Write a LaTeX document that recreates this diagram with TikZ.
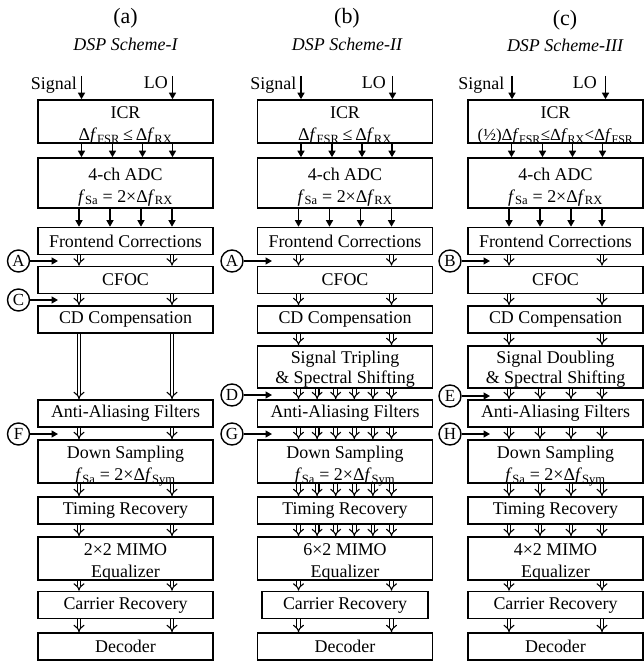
\documentclass[tikz,border=0pt]{standalone}
\usepackage{fontspec}
\setmainfont{Liberation Serif}
\usetikzlibrary{arrows.meta}

\newcommand{\fsub}[1]{\textit{f}\textsubscript{#1}}

\tikzset{
  blk/.style={draw,rectangle,line width=1.6bp,minimum width=175bp,minimum height=27bp,inner sep=0pt,align=center},
  blktall/.style={blk,minimum height=43bp,text height=38bp,text depth=0pt},
  blkshift/.style={blk,minimum height=42bp,font=\fontsize{18}{19.5}\selectfont,text height=32bp,text depth=0pt},
  sarr/.style={line width=1.4bp,-{Triangle[length=6.5bp,width=7bp]}},
  darr/.style={double,double distance=2.6bp,line width=1.1bp,-{Implies}},
  tagc/.style={draw,circle,line width=1.4bp,minimum size=22bp,inner sep=0pt,font=\fontsize{17}{17}\selectfont},
}

\begin{document}
\begin{tikzpicture}[x=1bp,y=-1bp,font=\fontsize{18}{22}\selectfont]
  \useasboundingbox (0,0) rectangle (644,663);

  % headers
  \node (hA) at (125.5,18) {\fontsize{22}{22}\selectfont (a)};
  \node (tA) at (125.5,44) {\itshape DSP Scheme-I};
  \node (hB) at (347,18) {\fontsize{22}{22}\selectfont (b)};
  \node (tB) at (347,44) {\itshape DSP Scheme-II};
  \node (hC) at (565,20) {\fontsize{22}{22}\selectfont (c)};
  \node (tC) at (565,45) {\itshape DSP Scheme-III};

  % scheme I
  \node[blktall] (icrA) at (125.5,121.5) {ICR\\Δ\fsub{FSR}\,≤\,Δ\fsub{RX}};
  \node[blktall,minimum height=50bp] (adcA) at (125.5,183) {4-ch ADC\\\fsub{Sa} = 2×Δ\fsub{RX}};
  \node[blk] (feA) at (125.5,241) {Frontend Corrections};
  \node[blk] (cfocA) at (125.5,280) {CFOC};
  \node[blk] (cdA) at (125.5,319.5) {CD Compensation};
  \node[blk] (aafA) at (125.5,413.5) {Anti-Aliasing Filters};
  \node[blktall] (dsA) at (125.5,461.5) {Down Sampling\\\fsub{Sa} = 2×Δ\fsub{Sym}};
  \node[blk] (trA) at (125.5,510.5) {Timing Recovery};
  \node[blktall] (mimoA) at (125.5,558.5) {2×2 MIMO\\Equalizer};
  \node[blk] (crA) at (125.5,605) {Carrier Recovery};
  \node[blk] (decA) at (125.5,646.5) {Decoder};

  \coordinate (sigA) at (81.5,76);
  \coordinate (loA) at (172.5,76);
  \draw[sarr] (sigA) node[anchor=north east,inner sep=0pt,xshift=-4bp] (sigtA) {Signal} -- (sigA |- icrA.north);
  \draw[sarr] (loA) node[anchor=north east,inner sep=0pt,xshift=-4bp] (lotA) {LO} -- (loA |- icrA.north);
  \foreach \dx in {-44,-13,17,47}
    \draw[sarr] ([xshift=\dx bp]icrA.south) -- ([xshift=\dx bp]adcA.north);
  \foreach \dx in {-46.5,-15.5,15.5,46.5}
    \draw[sarr] ([xshift=\dx bp]adcA.south) -- ([xshift=\dx bp]feA.north);
  \foreach \u/\v in {feA/cfocA,cfocA/cdA,cdA/aafA,aafA/dsA,dsA/trA,trA/mimoA,mimoA/crA,crA/decA}
    \foreach \dx in {-46.5,46.5}
      \draw[darr] ([xshift=\dx bp]\u.south) -- ([xshift=\dx bp]\v.north);

  \node[tagc] (mkA1) at (18.5,261) {A};
  \node[tagc] (mkC) at (18.5,300) {C};
  \node[tagc] (mkF) at (18.5,434) {F};
  \coordinate (tpA1) at (58,261);
  \coordinate (tpC) at (58,300);
  \coordinate (tpF) at (58,434);
  \draw[sarr] (mkA1) -- (tpA1);
  \draw[sarr] (mkC) -- (tpC);
  \draw[sarr] (mkF) -- (tpF);

  % scheme II
  \node[blktall] (icrB) at (345,121.5) {ICR\\Δ\fsub{FSR}\,≤\,Δ\fsub{RX}};
  \node[blktall,minimum height=50bp] (adcB) at (345,183) {4-ch ADC\\\fsub{Sa} = 2×Δ\fsub{RX}};
  \node[blk] (feB) at (345,241) {Frontend Corrections};
  \node[blk] (cfocB) at (345,280) {CFOC};
  \node[blk] (cdB) at (345,319.5) {CD Compensation};
  \node[blkshift] (shiftB) at (345,367) {Signal Tripling\\\& Spectral Shifting};
  \node[blk] (aafB) at (345,413.5) {Anti-Aliasing Filters};
  \node[blktall] (dsB) at (345,461.5) {Down Sampling\\\fsub{Sa} = 2×Δ\fsub{Sym}};
  \node[blk] (trB) at (345,510.5) {Timing Recovery};
  \node[blktall] (mimoB) at (345,558.5) {6×2 MIMO\\Equalizer};
  \node[blk,minimum width=166bp] (crB) at (345,605) {Carrier Recovery};
  \node[blk] (decB) at (345,646.5) {Decoder};

  \coordinate (sigB) at (301,76);
  \coordinate (loB) at (392.5,76);
  \draw[sarr] (sigB) node[anchor=north east,inner sep=0pt,xshift=-4bp] (sigtB) {Signal} -- (sigB |- icrB.north);
  \draw[sarr] (loB) node[anchor=north east,inner sep=0pt,xshift=-6bp] (lotB) {LO} -- (loB |- icrB.north);
  \foreach \dx in {-44,-13,17,47}
    \draw[sarr] ([xshift=\dx bp]icrB.south) -- ([xshift=\dx bp]adcB.north);
  \foreach \dx in {-46.5,-15.5,15.5,46.5}
    \draw[sarr] ([xshift=\dx bp]adcB.south) -- ([xshift=\dx bp]feB.north);
  \foreach \u/\v in {feB/cfocB,cfocB/cdB,cdB/shiftB,mimoB/crB,crB/decB}
    \foreach \dx in {-46.5,46.5}
      \draw[darr] ([xshift=\dx bp]\u.south) -- ([xshift=\dx bp]\v.north);
  \foreach \u/\v in {shiftB/aafB,aafB/dsB,dsB/trB,trB/mimoB}
    \foreach \dx in {-46.5,-27.9,-9.3,9.3,27.9,46.5}
      \draw[darr] ([xshift=\dx bp]\u.south) -- ([xshift=\dx bp]\v.north);

  \node[tagc] (mkA2) at (232,261) {A};
  \node[tagc] (mkD) at (232,395) {D};
  \node[tagc] (mkG) at (232,434) {G};
  \coordinate (tpA2) at (272,261);
  \coordinate (tpD) at (272,395);
  \coordinate (tpG) at (272,434);
  \draw[sarr] (mkA2) -- (tpA2);
  \draw[sarr] (mkD) -- (tpD);
  \draw[sarr] (mkG) -- (tpG);

  % scheme III
  \node[blktall] (icrC) at (555.5,121.5) {ICR\\{\fontsize{17}{22}\selectfont(½)Δ\fsub{FSR}≤Δ\fsub{RX}<Δ\fsub{FSR}}};
  \node[blktall,minimum height=50bp] (adcC) at (555.5,183) {4-ch ADC\\\fsub{Sa} = 2×Δ\fsub{RX}};
  \node[blk] (feC) at (555.5,241) {Frontend Corrections};
  \node[blk] (cfocC) at (555.5,280) {CFOC};
  \node[blk] (cdC) at (555.5,319.5) {CD Compensation};
  \node[blkshift] (shiftC) at (555.5,367) {Signal Doubling\\\& Spectral Shifting};
  \node[blk] (aafC) at (555.5,413.5) {Anti-Aliasing Filters};
  \node[blktall] (dsC) at (555.5,461.5) {Down Sampling\\\fsub{Sa} = 2×Δ\fsub{Sym}};
  \node[blk] (trC) at (555.5,510.5) {Timing Recovery};
  \node[blktall] (mimoC) at (555.5,558.5) {4×2 MIMO\\Equalizer};
  \node[blk] (crC) at (555.5,605) {Carrier Recovery};
  \node[blk] (decC) at (555.5,646.5) {Decoder};

  \coordinate (sigC) at (512,76);
  \coordinate (loC) at (605.5,76);
  \draw[sarr] (sigC) node[anchor=north east,inner sep=0pt,xshift=-7bp] (sigtC) {Signal} -- (sigC |- icrC.north);
  \draw[sarr] (loC) node[anchor=north east,inner sep=0pt,xshift=-8bp] (lotC) {LO} -- (loC |- icrC.north);
  \foreach \dx in {-44,-13,17,47}
    \draw[sarr] ([xshift=\dx bp]icrC.south) -- ([xshift=\dx bp]adcC.north);
  \foreach \dx in {-46.5,-15.5,15.5,46.5}
    \draw[sarr] ([xshift=\dx bp]adcC.south) -- ([xshift=\dx bp]feC.north);
  \foreach \u/\v in {feC/cfocC,cfocC/cdC,cdC/shiftC,mimoC/crC,crC/decC}
    \foreach \dx in {-46.5,46.5}
      \draw[darr] ([xshift=\dx bp]\u.south) -- ([xshift=\dx bp]\v.north);
  \foreach \u/\v in {shiftC/aafC,aafC/dsC,dsC/trC,trC/mimoC}
    \foreach \dx in {-46.5,-15.5,15.5,46.5}
      \draw[darr] ([xshift=\dx bp]\u.south) -- ([xshift=\dx bp]\v.north);

  \node[tagc] (mkB) at (450,261) {B};
  \node[tagc] (mkE) at (450,396) {E};
  \node[tagc] (mkH) at (450,434) {H};
  \coordinate (tpB) at (490,261);
  \coordinate (tpE) at (490,396);
  \coordinate (tpH) at (490,434);
  \draw[sarr] (mkB) -- (tpB);
  \draw[sarr] (mkE) -- (tpE);
  \draw[sarr] (mkH) -- (tpH);
\end{tikzpicture}
\end{document}
